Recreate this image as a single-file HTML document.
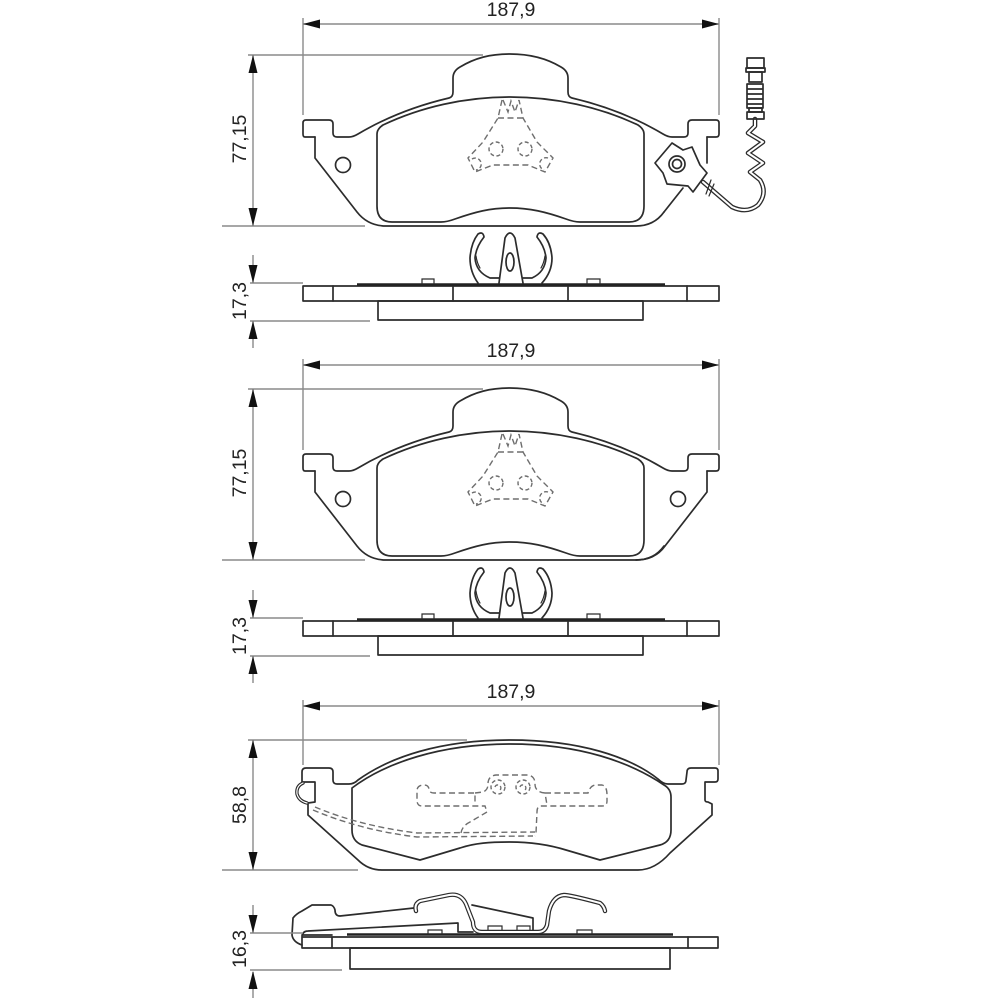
<!DOCTYPE html>
<html>
<head>
<meta charset="utf-8">
<style>
html,body{margin:0;padding:0;background:#fff;}
svg{display:block;}
text{font-family:"Liberation Sans",sans-serif;font-size:19.5px;fill:#222;text-anchor:middle;}
.p{fill:none;stroke:#2c2c2c;stroke-width:1.7;stroke-linejoin:round;stroke-linecap:round;}
.d{fill:none;stroke:#6e6e6e;stroke-width:1.4;stroke-dasharray:6 3.5;}
.c{fill:none;stroke:#6e6e6e;stroke-width:1.4;stroke-dasharray:4 2.5;}
.x{fill:none;stroke:#8a8a8a;stroke-width:1.4;}
.a{fill:#111;stroke:none;}
.t{fill:none;stroke:#2c2c2c;stroke-width:1.2;stroke-linecap:round;}
.wo{fill:none;stroke:#2c2c2c;stroke-width:4.6;stroke-linejoin:round;stroke-linecap:round;}
.wi{fill:none;stroke:#fff;stroke-width:2;stroke-linejoin:round;stroke-linecap:round;}
</style>
</head>
<body>
<svg width="1000" height="1000" viewBox="0 0 1000 1000" xmlns="http://www.w3.org/2000/svg">
<defs>
  <g id="pad">
    <path class="p" d="M315,137 L305,137 Q303,137 303,134 L303,123 Q303,120 306,120 L329,120 Q333,120 333,124 L333,133 Q333,137 337,137 L349,137 Q353,137 358,134 C385,118 415,106 449,98 Q453,97 453,92 L453,78 Q453,71 460,67 C475,58 490,54 510,54 C530,54 546,58 561,67 Q568,71 568,78 L568,92 Q568,97 572,98 C606,106 636,118 663,134 Q668,137 672,137 L684,137 Q688,137 688,133 L688,124 Q688,120 692,120 L716,120 Q719,120 719,123 L719,134 Q719,137 716,137 L707,137"/>
    <path class="p" d="M315,137 L315,158 L357,212 Q368,226 386,226 L636,226 Q654,226 664,212"/>
    <path class="p" d="M377,134 L377,206 Q377,222 392,222 L441,222 Q447,222 455,219 C475,212 490,208 510,208 C530,208 546,212 566,219 Q574,222 580,222 L629,222 Q644,222 644,206 L644,134 Q644,129 638,125 C600,107 555,97 510,97 C465,97 421,107 383,125 Q377,129 377,134 Z"/>
    <circle class="p" cx="343" cy="165" r="7.5"/>
    <path class="d" d="M502,100 L498,118 L483,142 L468,158 L475,172 L493,165 L528,165 L545,172 L553,158 L537,142 L523,118 L519,100 M498,118 L523,118 M503,100 L508,112 L511,101 L515,112 L519,100"/>
    <circle class="c" cx="496" cy="149" r="7"/>
    <circle class="c" cx="525" cy="149" r="7"/>
    <path class="c" d="M472,159 A6,6 0 1 1 476,170"/>
    <path class="c" d="M548,158 A6,6 0 1 0 544,170"/>
  </g>
  <g id="sec">
    <rect class="p" x="303" y="286" width="416" height="15"/>
    <path class="p" d="M333,286V301 M453,286V301 M568,286V301 M687,286V301"/>
    <rect class="p" x="378" y="301" width="265" height="19"/>
    <path d="M357,284.5H665" stroke="#222" stroke-width="2.6" fill="none"/>
    <path class="t" d="M422,284V279H434V284 M587,284V279H600V284"/>
    <path class="p" d="M499,283 L505,238 Q510,228 515,238 L523,283"/>
    <ellipse class="p" cx="510" cy="262" rx="4" ry="9"/>
    <path class="p" d="M478,283 Q470,272 470,258 Q471,243 478,234 Q483,231 484,237 Q476,247 475,258 Q476,272 490,278 L499,278"/>
    <path class="p" d="M542,283 Q552,272 552,258 Q551,243 543,234 Q538,231 537,237 Q545,247 546,258 Q545,272 532,278 L523,278"/>
    <path class="t" d="M476,256 Q477,263 480,268 M545,256 Q544,263 541,268"/>
  </g>
  <path id="au" class="a" d="M0,0 L-4.5,18 L4.5,18 Z"/>
  <path id="ad" class="a" d="M0,0 L-4.5,-18 L4.5,-18 Z"/>
</defs>

<path class="x" d="M303,18V115 M719,18V115 M303,24H719 M253,55V226 M248,55H483 M222,226H365"/>
<path class="a" d="M303,24 L320,19.5 L320,28.5 Z M719,24 L702,19.5 L702,28.5 Z"/>
<use href="#au" x="253" y="55"/><use href="#ad" x="253" y="226"/>
<text x="511" y="16">187,9</text>
<text transform="translate(246,139) rotate(-90)">77,15</text>

<use href="#pad"/>
<path class="p" d="M707,137 L707,163 M664,212 L683,188"/>
<path class="wo" d="M703,182 L732,207 Q747,214 758,205 Q768,193 760,180 L750,172 L763,163 L748,153 L763,142 L748,133 L755,126 L755,119"/>
<path class="wi" d="M703,182 L732,207 Q747,214 758,205 Q768,193 760,180 L750,172 L763,163 L748,153 L763,142 L748,133 L755,126 L755,119"/>
<rect class="p" x="747" y="58" width="17" height="10"/>
<rect class="p" x="746" y="68" width="19" height="4"/>
<rect class="p" x="749" y="72" width="13" height="10"/>
<path class="p" d="M747,84H763 M747,89H763 M747,94H763 M747,99H763 M747,104H763 M747,84V108 M763,84V108 M747,108H763"/>
<rect class="p" x="749" y="108" width="13" height="4"/>
<rect class="p" x="747" y="112" width="17" height="7"/>
<path class="p" style="fill:#fff" d="M655,163 L672,143 L683,150 L692,147 L700,165 L707,173 L693,192 L688,186 L667,184 L663,173 Z"/>
<circle class="p" cx="677" cy="164" r="8"/>
<circle class="p" cx="677" cy="164" r="4.5"/>
<path class="t" d="M711,180 L706,194 M714,184 L709,196"/>

<use href="#sec"/>
<path class="x" d="M253,255V283 M253,321V348 M250,283H303 M250,321H370"/>
<use href="#ad" x="253" y="283"/><use href="#au" x="253" y="321"/>
<text transform="translate(246,301) rotate(-90)">17,3</text>

<path class="x" d="M303,359V450 M719,359V450 M303,365H719 M253,389V560 M248,389H483 M222,560H365"/>
<path class="a" d="M303,365 L320,360.5 L320,369.5 Z M719,365 L702,360.5 L702,369.5 Z"/>
<use href="#au" x="253" y="389"/><use href="#ad" x="253" y="560"/>
<text x="511" y="357">187,9</text>
<text transform="translate(246,473) rotate(-90)">77,15</text>

<use href="#pad" y="334"/>
<path class="p" d="M707,471 L707,492 L665,546 Q655,560 636,560"/>
<circle class="p" cx="678" cy="499" r="7.5"/>

<use href="#sec" y="335"/>
<path class="x" d="M253,590V618 M253,656V683 M250,618H303 M250,656H370"/>
<use href="#ad" x="253" y="618"/><use href="#au" x="253" y="656"/>
<text transform="translate(246,636) rotate(-90)">17,3</text>

<path class="x" d="M303,700V765 M719,700V765 M303,706H719 M253,740V870 M248,740H467 M222,870H358"/>
<path class="a" d="M303,706 L320,701.5 L320,710.5 Z M719,706 L702,701.5 L702,710.5 Z"/>
<use href="#au" x="253" y="740"/><use href="#ad" x="253" y="870"/>
<text x="511" y="698">187,9</text>
<text transform="translate(246,805) rotate(-90)">58,8</text>

<path class="p" d="M308,803 L315,802 L315,782 L302,782 L302,772 Q302,768 306,768 L329,768 Q333,768 333,772 L333,780 Q333,784 337,784 L349,784 Q354,784 358,780 C390,757 440,740 510,740 C580,740 630,757 658,779 Q663,784 668,784 L682,784 Q686,784 686,780 L687,772 Q687,768 691,768 L715,768 Q718,768 718,771 L718,779 Q718,782 715,782 L705,782 L705,800 Q705,802 708,802 L712,804 L712,815 L670,853 Q655,870 638,870 L382,870 Q368,870 358,860 L308,815 Z"/>
<path class="p" d="M352,788 C385,763 440,744 510,744 C580,744 630,762 664,785 Q671,789 671,797 L671,830 Q671,842 660,845 L600,860 L566,850 Q540,842 510,842 C490,842 475,843 460,848 L420,860 L362,845 Q352,841 352,830 Z"/>
<path class="wo" style="stroke-width:3.4" d="M303,783 Q296,786 297,794 Q299,801 307,803"/>
<path class="wi" style="stroke-width:1.2" d="M303,783 Q296,786 297,794 Q299,801 307,803"/>
<path class="d" d="M315,807 Q360,826 417,833 L535,832 M313,810 Q360,830 417,837 L533,836"/>
<path class="d" d="M461,833 Q462,826 470,822 L487,812 L485,806 L422,806 Q417,806 417,800 L417,791 Q417,785 424,785 Q429,785 429,790 Q430,793 434,793 L475,793 L475,805 M475,793 L483,792 Q488,790 488,784 Q488,776 496,775 L528,775 Q535,776 535,784 Q535,792 545,793 L547,805 M545,793 L588,793 Q590,786 595,785 L602,785 Q607,786 607,795 L607,801 Q607,806 602,806 L541,806 Q537,806 537,812 L536,833 L535,836"/>
<circle class="c" cx="498" cy="787" r="7"/>
<circle class="c" cx="523" cy="787" r="7"/>
<path class="c" d="M495,787 A3,3 0 1 1 500,790 M520,787 A3,3 0 1 1 525,790"/>

<rect class="p" x="302" y="937" width="416" height="11"/>
<path class="p" d="M332,937V948 M688,937V948"/>
<rect class="p" x="350" y="948" width="320" height="21"/>
<path d="M347,934.5H673" stroke="#222" stroke-width="2.6" fill="none"/>
<path class="p" d="M302,945 Q293,942 292,935 L293,918 Q296,914 302,911 L312,905 L331,905 Q334,906 335,910 Q335,916 340,916 L414,908 M472,905 L533,918 L533,930"/>
<path class="p" d="M302,936 Q303,931 308,931 L458,923 L458,932 M332,935 L302,935 M458,932 L473,932"/>
<path class="t" d="M428,934V930H442V934 M488,930V926H502V930 M517,930V926H530V930 M577,934V930H592V934"/>
<path class="wo" style="stroke-width:4.4" d="M416,911 Q414,904 420,901 L449,895 Q461,893 466,904 L473,922 Q473,932 482,932 L538,932 Q545,932 547,925 L549,911 Q553,896 564,895 Q570,895 600,903 Q604,906 605,911"/>
<path class="wi" d="M416,911 Q414,904 420,901 L449,895 Q461,893 466,904 L473,922 Q473,932 482,932 L538,932 Q545,932 547,925 L549,911 Q553,896 564,895 Q570,895 600,903 Q604,906 605,911"/>
<path class="x" d="M253,905V933 M253,972V998 M250,933H303 M250,970H342"/>
<use href="#ad" x="253" y="933"/><use href="#au" x="253" y="971"/>
<text transform="translate(246,949) rotate(-90)">16,3</text>
</svg>
</body>
</html>
